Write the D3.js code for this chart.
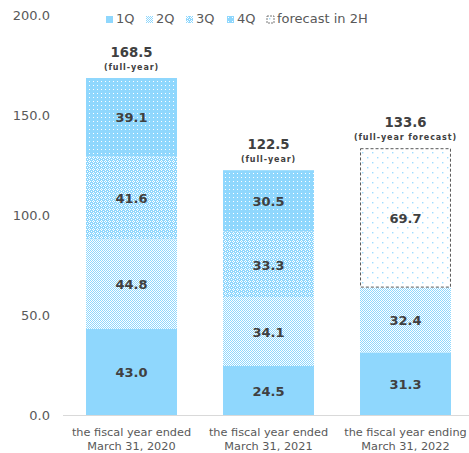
<!DOCTYPE html>
<html>
<head>
<meta charset="utf-8">
<script src="https://cdn.jsdelivr.net/npm/d3@7"></script>
<style>
  html, body { margin: 0; padding: 0; background: #fff; }
  svg { display: block; font-family: "DejaVu Sans", Verdana, sans-serif; }
</style>
</head>
<body>
<svg id="chart" width="469" height="453"></svg>
<script>
// Quarterly results per fiscal year (billions)
const catLine1 = ["the fiscal year ended", "the fiscal year ended", "the fiscal year ending"];
const catLine2 = ["March 31, 2020", "March 31, 2021", "March 31, 2022"];
const q1 = [43.0, 24.5, 31.3];
const q2 = [44.8, 34.1, 32.4];
const q3 = [41.6, 33.3, 0];
const q4 = [39.1, 30.5, 0];
const forecast2H = [0, 0, 69.7];
const totalLabels = ["168.5", "122.5", "133.6"];
const totalNotes = ["(full-year)", "(full-year)", "(full-year forecast)"];
const yTicks = [0, 50, 100, 150, 200];
const seriesKeys = ["1Q", "2Q", "3Q", "4Q", "forecast in 2H"];

const BLUE = "#8fd7fd";
const svg = d3.select("#chart");
const defs = svg.append("defs");

// Fill patterns for each quarter
function pattern(id, size, bg, cells, color, r) {
  const p = defs.append("pattern").attr("id", id)
    .attr("patternUnits", "userSpaceOnUse")
    .attr("width", size).attr("height", size);
  p.append("rect").attr("width", size).attr("height", size).attr("fill", bg);
  cells.forEach(([x, y]) => {
    p.append("rect").attr("x", x).attr("y", y)
      .attr("width", r).attr("height", r).attr("fill", color);
  });
}
pattern("p2", 2, "#ffffff", [[0, 0], [1, 1]], BLUE, 1);
pattern("p3", 4, BLUE, [[1, 0], [0, 1], [2, 1], [1, 2], [3, 3]], "#ffffff", 1);
pattern("p4", 4, BLUE, [[1, 1]], "#ffffff", 1);
pattern("pf", 10, "#ffffff", [[2, 2], [7, 7]], "#9fdcff", 1.4);

const fills = { "1Q": BLUE, "2Q": "url(#p2)", "3Q": "url(#p3)", "4Q": "url(#p4)", "forecast in 2H": "url(#pf)" };

const rows = catLine1.map((c, i) => ({
  i, "1Q": q1[i], "2Q": q2[i], "3Q": q3[i], "4Q": q4[i], "forecast in 2H": forecast2H[i]
}));
const stacked = d3.stack().keys(seriesKeys)(rows);

const x = d3.scaleBand().domain(rows.map(d => d.i)).range([63, 474])
  .paddingInner(0.336).paddingOuter(0.168);
const y = d3.scaleLinear().domain([0, 200]).range([415, 15]);

// Y axis labels
const yAxis = svg.append("g").attr("transform", "translate(63,0)")
  .call(d3.axisLeft(y).tickValues(yTicks).tickFormat(d3.format(".1f")).tickSize(0).tickPadding(13));
yAxis.select(".domain").remove();
yAxis.selectAll("text").attr("font-family", "DejaVu Sans, Verdana, sans-serif")
  .attr("font-size", 13).attr("fill", "#595959");

// Baseline
svg.append("line").attr("x1", 63).attr("x2", 469).attr("y1", y(0) + 0.5).attr("y2", y(0) + 0.5)
  .attr("stroke", "#d9d9d9").attr("stroke-width", 1);

// Stacked segments
const segs = [];
stacked.forEach(s => s.forEach(d => {
  if (d[1] - d[0] > 0) segs.push({ key: s.key, i: d.data.i, y0: d[0], y1: d[1] });
}));
svg.append("g").selectAll("rect").data(segs).join("rect")
  .attr("x", d => x(d.i)).attr("width", x.bandwidth())
  .attr("y", d => y(d.y1)).attr("height", d => y(d.y0) - y(d.y1))
  .attr("fill", d => fills[d.key]);

// Dashed outline around forecast segment
svg.append("g").selectAll("rect").data(segs.filter(d => d.key === "forecast in 2H")).join("rect")
  .attr("x", d => x(d.i) + 0.5).attr("width", x.bandwidth() - 1)
  .attr("y", d => y(d.y1) + 0.5).attr("height", d => y(d.y0) - y(d.y1) - 1)
  .attr("fill", "none").attr("stroke", "#595959").attr("stroke-width", 1)
  .attr("stroke-dasharray", "3,2");

// Segment value labels
svg.append("g").selectAll("text").data(segs).join("text")
  .attr("x", d => x(d.i) + x.bandwidth() / 2)
  .attr("y", d => (y(d.y0) + y(d.y1)) / 2 + 5)
  .attr("text-anchor", "middle").attr("font-size", 13).attr("font-weight", "bold")
  .attr("fill", "#404040")
  .text(d => d3.format(".1f")(d.y1 - d.y0));

// Totals above bars
const tops = rows.map(r => d3.sum(seriesKeys, k => r[k]));
const tg = svg.append("g");
tg.selectAll("text.total").data(rows).join("text").attr("class", "total")
  .attr("x", d => x(d.i) + x.bandwidth() / 2)
  .attr("y", d => y(tops[d.i]) - 21)
  .attr("text-anchor", "middle").attr("font-size", 13.3).attr("font-weight", "bold")
  .attr("fill", "#404040").text(d => totalLabels[d.i]);
tg.selectAll("text.note").data(rows).join("text").attr("class", "note")
  .attr("x", d => x(d.i) + x.bandwidth() / 2)
  .attr("y", d => y(tops[d.i]) - 8)
  .attr("text-anchor", "middle").attr("font-size", 8).attr("font-weight", "bold")
  .attr("letter-spacing", 0.9)
  .attr("fill", "#404040").text(d => totalNotes[d.i]);

// Category labels
const cg = svg.append("g").selectAll("text").data(rows).join("text")
  .attr("x", d => x(d.i) + x.bandwidth() / 2)
  .attr("text-anchor", "middle").attr("font-size", 11.3).attr("fill", "#595959");
cg.append("tspan").attr("x", d => x(d.i) + x.bandwidth() / 2).attr("y", 436).text(d => catLine1[d.i]);
cg.append("tspan").attr("x", d => x(d.i) + x.bandwidth() / 2).attr("y", 450).text(d => catLine2[d.i]);

// Legend
const legendX = [106, 146, 186, 227, 267];
const lg = svg.append("g").selectAll("g").data(seriesKeys).join("g")
  .attr("transform", (d, i) => `translate(${legendX[i]},16)`);
lg.append("rect").attr("width", 7).attr("height", 7)
  .attr("fill", d => fills[d])
  .attr("stroke", d => d === "forecast in 2H" ? "#595959" : "none")
  .attr("stroke-dasharray", "2,1").attr("stroke-width", 0.8);
lg.append("text").attr("x", 10).attr("y", 7)
  .attr("font-size", 13).attr("fill", "#595959").text(d => d);
</script>
</body>
</html>
